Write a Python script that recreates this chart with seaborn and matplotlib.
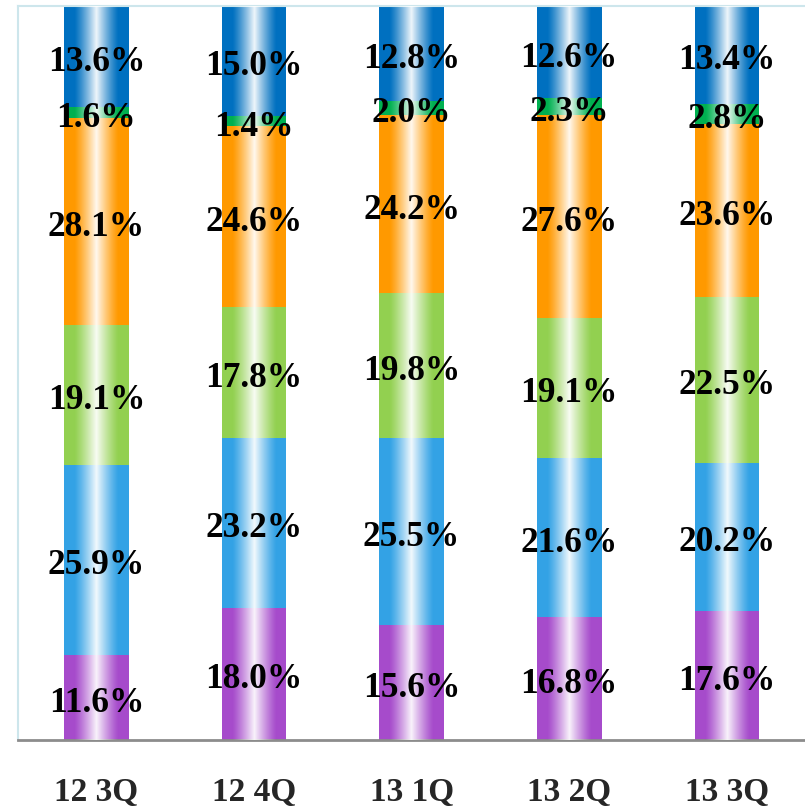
import numpy as np
import pandas as pd
import matplotlib
matplotlib.use("Agg")
import matplotlib.pyplot as plt
import seaborn as sns

quarters = ["12 3Q", "12 4Q", "13 1Q", "13 2Q", "13 3Q"]

# series, bottom to top
purple = [11.6, 18.0, 15.6, 16.8, 17.6]
light_blue = [25.9, 23.2, 25.5, 21.6, 20.2]
light_green = [19.1, 17.8, 19.8, 19.1, 22.5]
orange = [28.1, 24.6, 24.2, 27.6, 23.6]
green = [1.6, 1.4, 2.0, 2.3, 2.8]
dark_blue = [13.6, 15.0, 12.8, 12.6, 13.4]

series = [purple, light_blue, light_green, orange, green, dark_blue]
colors = ["#A64BCB", "#33A2E5", "#92D050", "#FF9900", "#00B050", "#0070C0"]

sns.set_style("white")
plt.rcParams["font.family"] = ["Liberation Serif", "DejaVu Serif"]

fig = plt.figure(figsize=(8.05, 8.09), dpi=100)
ax = fig.add_axes([0.0219, 0.0853, 0.979, 0.9073])

bar_w = 0.41
cum = np.cumsum(np.array(series), axis=0)

# draw cumulative totals from the top layer down so each covers the next
for i in range(len(series) - 1, -1, -1):
    df = pd.DataFrame({"quarter": quarters, "value": cum[i]})
    sns.barplot(data=df, x="quarter", y="value", color=colors[i], saturation=1,
                width=bar_w, linewidth=0, ax=ax, zorder=2)

# white highlight stripe down the middle of each bar
t = np.linspace(-1, 1, 300)
alpha = 0.94 * np.clip(1 - np.abs(t) / 0.68, 0, 1) ** 1.2
grad = np.ones((1, len(t), 4))
grad[0, :, 3] = alpha
for xi in range(len(quarters)):
    ax.imshow(grad, extent=(xi - bar_w / 2, xi + bar_w / 2, 0, cum[-1][xi]),
              aspect="auto", zorder=3, interpolation="bilinear")

# value labels
for i, vals in enumerate(series):
    for xi, v in enumerate(vals):
        mid = cum[i][xi] - v / 2 - 0.8
        ax.text(xi, mid, f"{v:.1f}%", ha="center", va="center",
                fontsize=25.5, fontweight="bold", color="black", zorder=5)

ax.set_xlim(-0.5, 4.5)
ax.set_ylim(0, 100)
ax.set_xlabel("")
ax.set_ylabel("")
ax.set_yticks([])
ax.tick_params(axis="x", length=0, pad=27, labelsize=24)
for lab in ax.get_xticklabels():
    lab.set_fontweight("bold")

ax.spines["right"].set_visible(False)
ax.spines["top"].set_color("#CDE6EC")
ax.spines["left"].set_color("#CDE6EC")
ax.spines["top"].set_linewidth(1.5)
ax.spines["left"].set_linewidth(1.5)
ax.spines["bottom"].set_color("#8C8C8C")
ax.spines["bottom"].set_linewidth(2)

fig.savefig("out.png", dpi=100)
